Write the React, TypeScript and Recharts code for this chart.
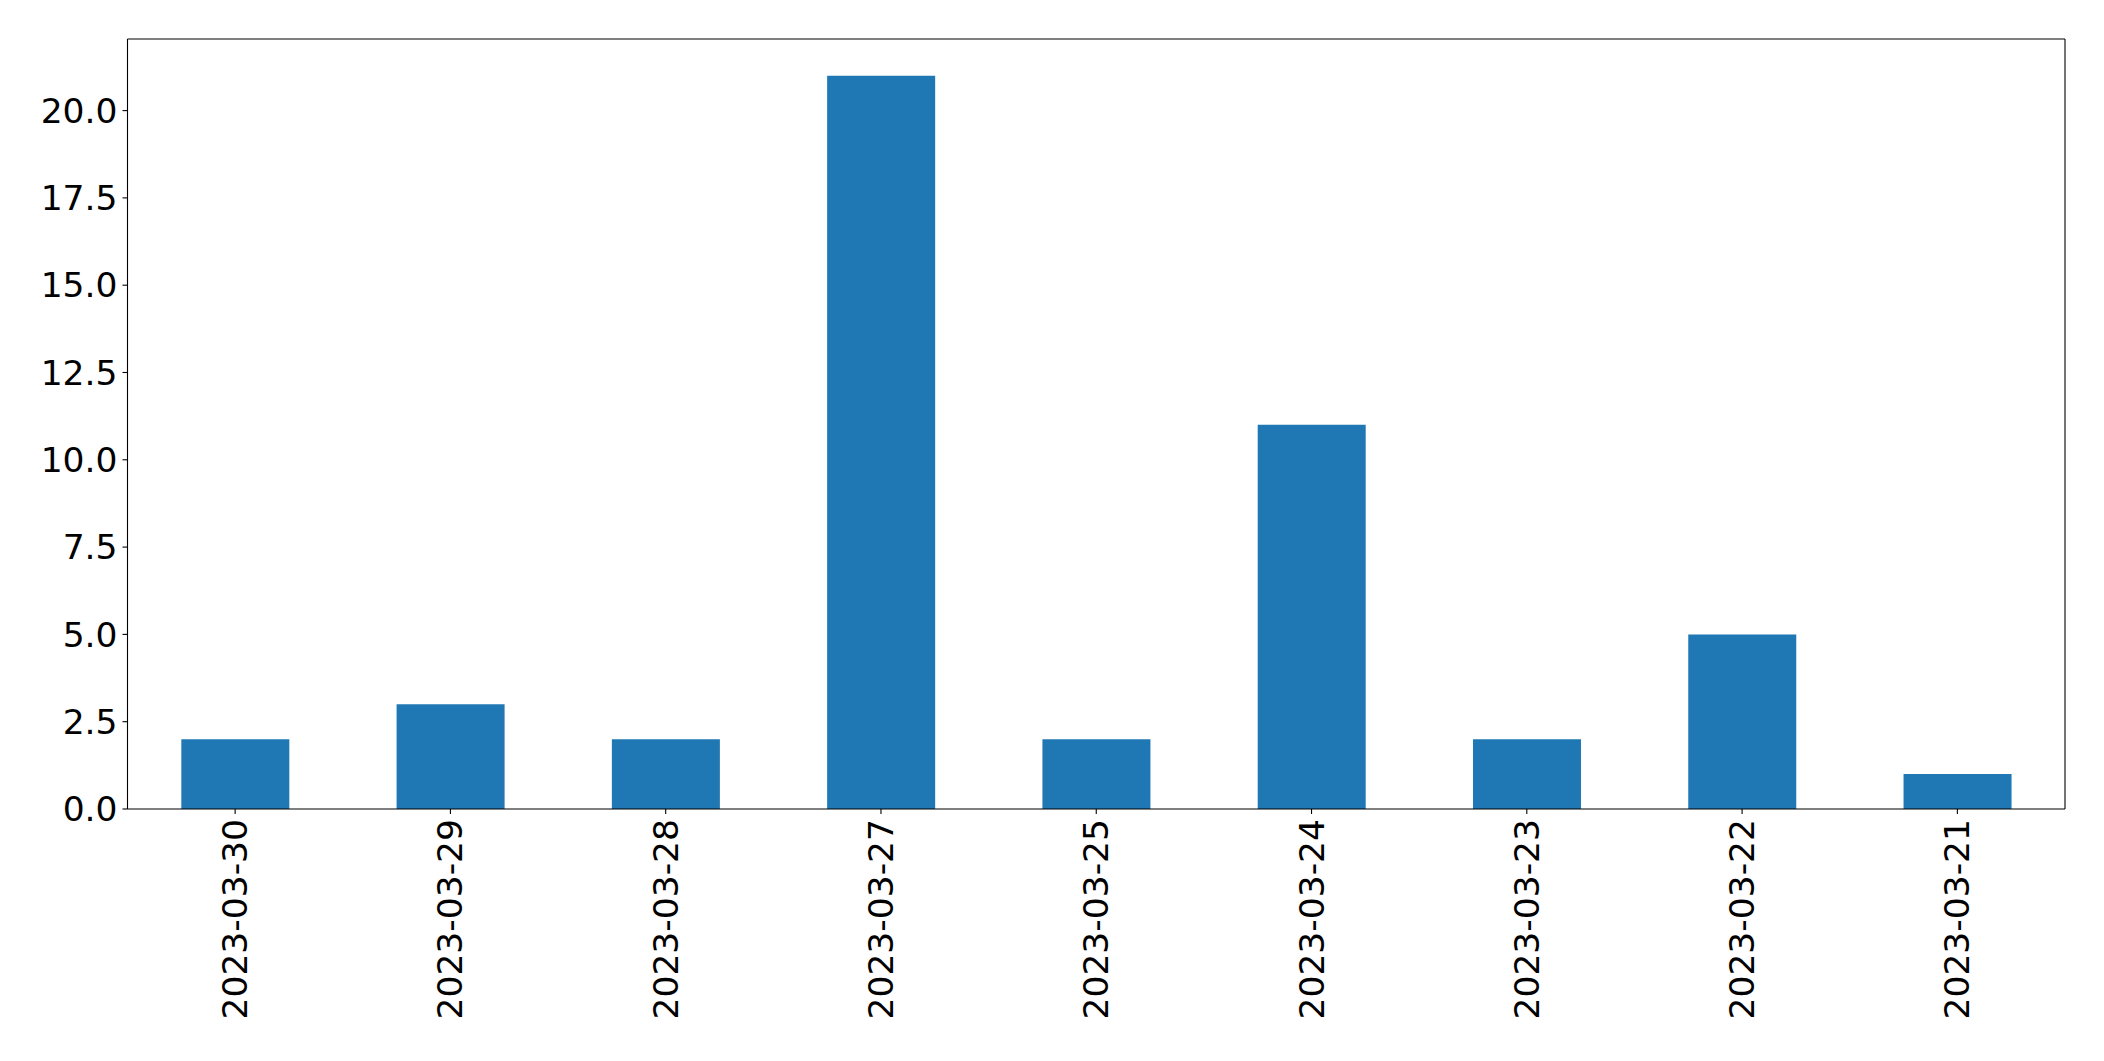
import React from 'react';
import { BarChart, Bar, XAxis, YAxis, CartesianGrid } from 'recharts';

const dates = [
  '2023-03-30',
  '2023-03-29',
  '2023-03-28',
  '2023-03-27',
  '2023-03-25',
  '2023-03-24',
  '2023-03-23',
  '2023-03-22',
  '2023-03-21',
];
const counts = [2, 3, 2, 21, 2, 11, 2, 5, 1];
const yTicks = [0, 2.5, 5, 7.5, 10, 12.5, 15, 17.5, 20];

const data = dates.map((d, i) => ({ date: d, count: counts[i] }));

const FONT = 'DejaVu Sans, sans-serif';
const FS = 34.5;

function DateTick(props: any) {
  const { x, y, payload } = props;
  return (
    <text
      transform={`translate(${x},${y}) rotate(-90)`}
      textAnchor="end"
      dy="0.35em"
      fontSize={FS}
      fontFamily={FONT}
      fill="#000"
    >
      {payload.value}
    </text>
  );
}

export default function App() {
  return (
    <div style={{ position: 'absolute', left: 0, top: 0, background: '#fff' }}>
      <BarChart
        width={2104}
        height={1061}
        data={data}
        margin={{ top: 39, right: 39, bottom: 0, left: 0 }}
        barCategoryGap="25%"
      >
        {/* top and right spines of the frame */}
        <CartesianGrid
          stroke="#000"
          strokeWidth={1.1}
          horizontalCoordinatesGenerator={({ offset }: any) => [offset.top]}
          verticalCoordinatesGenerator={({ offset }: any) => [offset.left + offset.width]}
        />
        <XAxis
          dataKey="date"
          interval={0}
          height={252}
          tick={<DateTick />}
          tickSize={5}
          tickMargin={5}
          axisLine={{ stroke: '#000', strokeWidth: 1.1 }}
          tickLine={{ stroke: '#000', strokeWidth: 1.1 }}
        />
        <YAxis
          width={127.5}
          domain={[0, 22.05]}
          ticks={yTicks}
          tickFormatter={(v: number) => v.toFixed(1)}
          tick={{ fontSize: FS, fontFamily: FONT, fill: '#000' }}
          tickSize={5}
          tickMargin={5}
          allowDataOverflow
          axisLine={{ stroke: '#000', strokeWidth: 1.1 }}
          tickLine={{ stroke: '#000', strokeWidth: 1.1 }}
        />
        <Bar dataKey="count" fill="#1f77b4" isAnimationActive={false} />
      </BarChart>
    </div>
  );
}
